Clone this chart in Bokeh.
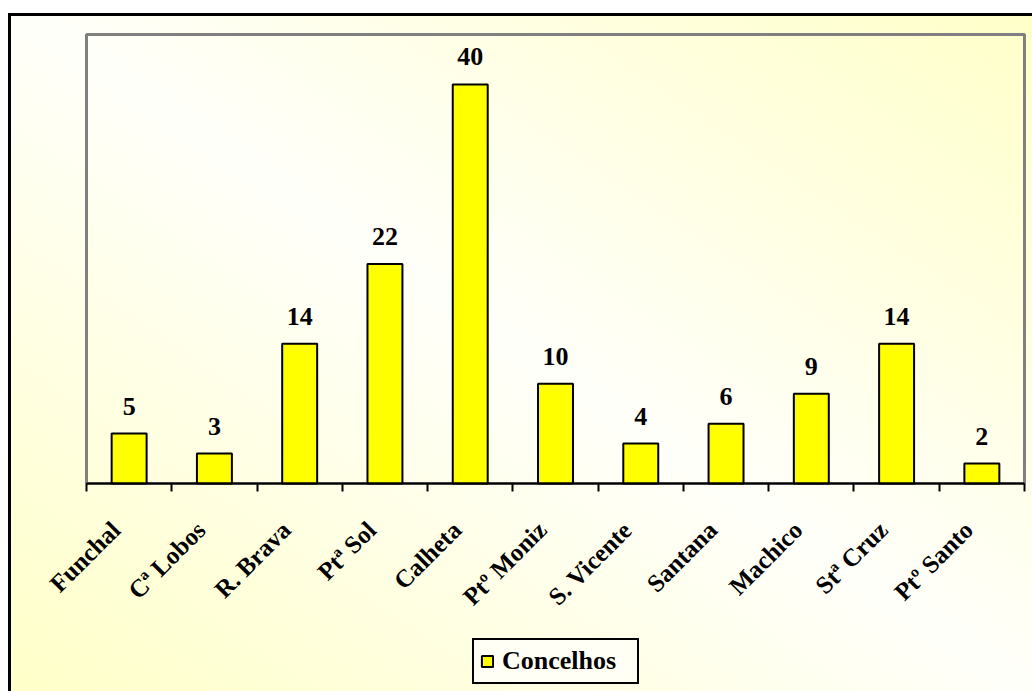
import math
from bokeh.plotting import figure
from bokeh.models import (ColumnDataSource, Range1d, FixedTicker, LabelSet,
                          Legend, LegendItem, BoxAnnotation)
from bokeh.embed import file_html
from bokeh.resources import INLINE

# ---- data ----
categories = ["Funchal", "Cª Lobos", "R. Brava", "Ptª Sol", "Calheta",
              "Ptº Moniz", "S. Vicente", "Santana", "Machico", "Stª Cruz",
              "Ptº Santo"]
values = [5, 3, 14, 22, 40, 10, 4, 6, 9, 14, 2]
series_name = "Concelhos"
y_max = 45

n = len(categories)
xpos = [i + 0.5 for i in range(n)]
src = ColumnDataSource(dict(x=xpos, top=values, cat=categories,
                            lbl=[str(v) for v in values]))

FONT = "Liberation Serif"
PAD = "\u00a0\u00a0\u00a0"  # shifts the rotated labels along their baseline

# ---- layout (pixels) ----
AREA_L, AREA_R, AREA_T, AREA_B = 86, 1024, 34, 483   # gray plot area
FR_L, FR_R, FR_T, FR_B = 30, 1028, 30, 691           # drawing frame
W, H = 1032, 691
px_x = (AREA_R - AREA_L) / n
px_y = (AREA_B - AREA_T) / y_max
x_start = -(AREA_L - FR_L) / px_x
x_end = n + (FR_R - AREA_R) / px_x
y_end = y_max + (AREA_T - FR_T) / px_y
y_start = -(FR_B - AREA_B) / px_y

p = figure(frame_width=FR_R - FR_L, frame_height=FR_B - FR_T,
           output_backend="svg", toolbar_location=None,
           x_range=Range1d(x_start, x_end), y_range=Range1d(y_start, y_end),
           min_border_left=FR_L, min_border_right=W - FR_R,
           min_border_top=FR_T, min_border_bottom=0)

p.styles = {
    "background": (
        "linear-gradient(#000,#000) 8px 13px/100% 3px no-repeat,"
        "linear-gradient(#000,#000) 8px 13px/3px 100% no-repeat,"
        "linear-gradient(#fff,#fff) 0 0/100% 13px no-repeat,"
        "linear-gradient(#fff,#fff) 0 0/8px 100% no-repeat,"
        "linear-gradient(to top right, #FFFFC8 0%, #FFFFFA 50%, #FFFFC8 100%) "
        "0 0/1032px 691px no-repeat"
    )
}
p.border_fill_color = None
p.background_fill_color = None
p.outline_line_color = None
p.grid.visible = False
p.yaxis.visible = False

# gray plot-area border
area = BoxAnnotation(left=0, right=n, bottom=0, top=y_max,
                     fill_alpha=0, line_color="#808080", line_alpha=1,
                     line_width=3, level="underlay")
p.add_layout(area)

bars = p.vbar(x="x", top="top", width=0.41, bottom=0, source=src,
              fill_color="#FFFF00", line_color="black", line_width=2)

ax = p.xaxis[0]
ax.fixed_location = 0
ax.bounds = (0, n)
ax.ticker = FixedTicker(ticks=xpos, minor_ticks=list(range(n + 1)))
ax.major_label_overrides = {x: c + PAD for x, c in zip(xpos, categories)}
ax.major_tick_line_color = None
ax.major_tick_out = 0
ax.major_tick_in = 0
ax.minor_tick_line_color = "black"
ax.minor_tick_line_width = 2
ax.minor_tick_out = 8
ax.minor_tick_in = 0
ax.axis_line_color = "black"
ax.axis_line_width = 2
ax.major_label_orientation = math.pi / 4
ax.major_label_text_font = FONT
ax.major_label_text_font_style = "bold"
ax.major_label_text_font_size = "25px"
ax.major_label_text_color = "black"
ax.major_label_standoff = 21

labels = LabelSet(x="x", y="top", text="lbl", source=src, y_offset=19,
                  text_align="center", text_baseline="alphabetic",
                  text_font=FONT, text_font_style="bold",
                  text_font_size="26px", text_color="black")
p.add_layout(labels)

legend = Legend(items=[LegendItem(label=series_name, renderers=[bars])],
                location=(472 - FR_L, 7), orientation="horizontal")
legend.border_line_color = "black"
legend.border_line_alpha = 1
legend.border_line_width = 2
legend.background_fill_color = "#FFFFF5"
legend.background_fill_alpha = 1
legend.label_text_font = FONT
legend.label_text_font_style = "bold"
legend.label_text_font_size = "26px"
legend.label_text_color = "black"
legend.glyph_width = 14
legend.glyph_height = 14
legend.label_standoff = 8
legend.padding = 6
legend.margin = 0
legend.label_width = 129
legend.label_height = 26
p.add_layout(legend, "center")

open("out.html", "w").write(file_html(p, INLINE))
